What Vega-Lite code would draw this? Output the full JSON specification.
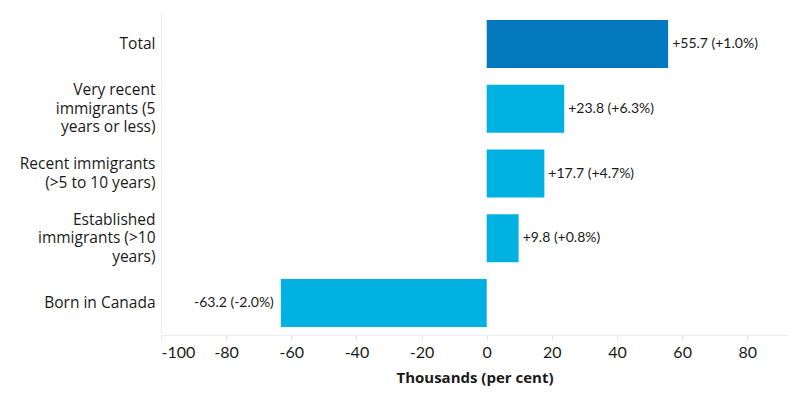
{
  "$schema": "https://vega.github.io/schema/vega-lite/v6.json",
  "autosize": "none",
  "padding": {"left": 161, "top": 12, "right": 12, "bottom": 65},
  "width": 627,
  "height": 323,
  "config": {
    "view": {"stroke": null},
    "font": "Lato",
    "text": {"font": "Lato"}
  },
  "data": {
    "values": [
      {"label": "Total", "value": 55.7, "text": "+55.7 (+1.0%)", "group": "total"},
      {"label": "Very recent|immigrants (5|years or less)", "value": 23.8, "text": "+23.8 (+6.3%)", "group": "sub"},
      {"label": "Recent immigrants|(>5 to 10 years)", "value": 17.7, "text": "+17.7 (+4.7%)", "group": "sub"},
      {"label": "Established|immigrants (>10|years)", "value": 9.8, "text": "+9.8 (+0.8%)", "group": "sub"},
      {"label": "Born in Canada", "value": -63.2, "text": "-63.2 (-2.0%)", "group": "sub"}
    ]
  },
  "encoding": {
    "y": {
      "field": "label",
      "type": "nominal",
      "sort": null,
      "scale": {"paddingInner": 0.257, "paddingOuter": 0.124},
      "axis": {
        "title": null,
        "labelExpr": "split(datum.label, '|')",
        "labelFont": "Open Sans",
        "labelFontSize": 15.5,
        "labelColor": "#1a1a1a",
        "labelPadding": 6,
        "labelLineHeight": 18.5,
        "ticks": false,
        "domainColor": "#eeeeee",
        "labelLimit": 200,
        "labelOffset": {
          "condition": [
            {"test": "length(split(datum.value, '|')) == 3", "value": -18.5},
            {"test": "length(split(datum.value, '|')) == 2", "value": -9.25}
          ],
          "value": 0
        }
      }
    }
  },
  "layer": [
    {
      "mark": {"type": "bar"},
      "encoding": {
        "x": {
          "field": "value",
          "type": "quantitative",
          "scale": {"domain": [-100, 92.5], "nice": false},
          "axis": {
            "values": [-100, -80, -60, -40, -20, 0, 20, 40, 60, 80],
            "labelExpr": "toString(datum.value)",
            "grid": false,
            "title": "Thousands (per cent)",
            "titleFont": "Open Sans",
            "titleFontSize": 15,
            "titleFontWeight": "bold",
            "titleColor": "#1a1a1a",
            "titlePadding": 10,
            "labelFontSize": 16,
            "labelColor": "#1a1a1a",
            "labelPadding": 4,
            "tickColor": "#e6e6e6",
            "tickSize": 5,
            "domainColor": "#eeeeee"
          }
        },
        "color": {
          "field": "group",
          "type": "nominal",
          "scale": {"domain": ["total", "sub"], "range": ["#0579BE", "#00B1E1"]},
          "legend": null
        }
      }
    },
    {
      "mark": {"type": "rule", "color": "#b5b5b5", "strokeDash": [1, 2], "strokeWidth": 1},
      "encoding": {"x": {"datum": 0}}
    },
    {
      "transform": [{"filter": "datum.value >= 0"}],
      "mark": {"type": "text", "align": "left", "dx": 4, "fontSize": 14, "color": "#1a1a1a"},
      "encoding": {
        "x": {"field": "value", "type": "quantitative"},
        "text": {"field": "text"}
      }
    },
    {
      "transform": [{"filter": "datum.value < 0"}],
      "mark": {"type": "text", "align": "right", "dx": -7, "fontSize": 14, "color": "#1a1a1a"},
      "encoding": {
        "x": {"field": "value", "type": "quantitative"},
        "text": {"field": "text"}
      }
    }
  ]
}
